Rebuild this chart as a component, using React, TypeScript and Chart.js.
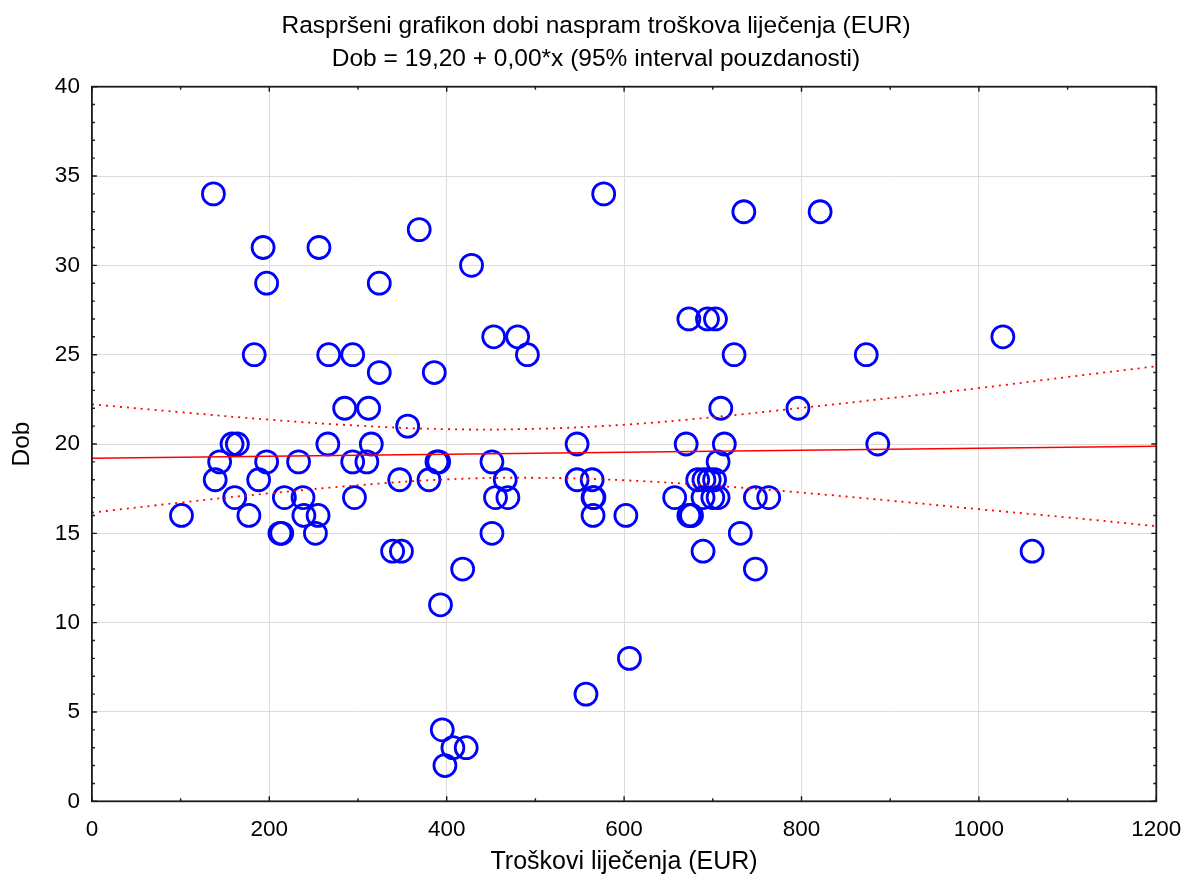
import React, { useEffect, useRef } from "react";
import { Chart, registerables } from "chart.js";

Chart.register(...registerables);

// Troškovi liječenja (EUR) for each patient
const costX = [
  137, 577,
  735, 821,
  369,
  193, 256,
  428,
  197, 324,
  673, 694, 703,
  453, 480, 1027,
  183, 267, 294, 491, 724, 873,
  324, 386,
  285, 312, 709, 796,
  356,
  158, 164, 266, 315, 547, 670, 713, 886,
  144, 197, 233, 294, 310, 389, 391, 451, 706,
  139, 188, 347, 380, 466, 547, 564, 683, 690, 696, 702,
  161, 217, 238, 296, 455, 469, 565, 566, 657, 689, 700, 706, 748, 763,
  101, 177, 239, 255, 565, 602, 673, 675, 676,
  212, 214, 252, 451, 731,
  339, 349, 689, 1060,
  418, 748,
  393,
  606,
  557,
  395,
  407, 422,
  398,
];

// Dob (age) for each patient
const ageY = [
  34, 34,
  33, 33,
  32,
  31, 31,
  30,
  29, 29,
  27, 27, 27,
  26, 26, 26,
  25, 25, 25, 25, 25, 25,
  24, 24,
  22, 22, 22, 22,
  21,
  20, 20, 20, 20, 20, 20, 20, 20,
  19, 19, 19, 19, 19, 19, 19, 19, 19,
  18, 18, 18, 18, 18, 18, 18, 18, 18, 18, 18,
  17, 17, 17, 17, 17, 17, 17, 17, 17, 17, 17, 17, 17, 17,
  16, 16, 16, 16, 16, 16, 16, 16, 16,
  15, 15, 15, 15, 15,
  14, 14, 14, 14,
  13, 13,
  11,
  8,
  6,
  4,
  3, 3,
  2,
];

// Regression line
const fitX = [0, 1200];
const fitY = [19.2, 19.88];

// 95% confidence band
const bandX = [0, 100, 200, 300, 400, 500, 600, 700, 800, 900, 1000, 1100, 1200];
const upperBand = [22.22, 21.78, 21.36, 21.03, 20.83, 20.85, 21.08, 21.5, 22.02, 22.57, 23.13, 23.75, 24.35];
const lowerBand = [16.16, 16.72, 17.24, 17.69, 18.02, 18.11, 17.97, 17.67, 17.28, 16.83, 16.35, 15.89, 15.4];

const titleLines = [
  "Raspršeni grafikon dobi naspram troškova liječenja (EUR)",
  "Dob = 19,20 + 0,00*x (95% interval pouzdanosti)",
];
const xTitle = "Troškovi liječenja (EUR)";
const yTitle = "Dob";

const FONT = "'Liberation Sans', Arial, sans-serif";
const TEXT_SIZE = 24.5;
const TICK_SIZE = 22.5;

const framePlugin = {
  id: "frame",
  afterDraw(chart: any) {
    const { ctx, chartArea } = chart;
    const { left, right, top, bottom } = chartArea;
    const xs = chart.scales.x;
    const ys = chart.scales.y;
    ctx.save();
    ctx.strokeStyle = "#1a1a1a";
    ctx.lineWidth = 1.4;
    ctx.beginPath();
    for (let v = 0; v <= 40; v++) {
      const py = ys.getPixelForValue(v);
      const len = v % 5 === 0 ? 5 : 3;
      ctx.moveTo(left, py);
      ctx.lineTo(left + len, py);
      ctx.moveTo(right, py);
      ctx.lineTo(right - len, py);
    }
    for (let v = 0; v <= 1200; v += 100) {
      const px = xs.getPixelForValue(v);
      const len = v % 200 === 0 ? 5 : 3;
      ctx.moveTo(px, bottom);
      ctx.lineTo(px, bottom - len);
      ctx.moveTo(px, top);
      ctx.lineTo(px, top + len);
    }
    ctx.stroke();
    ctx.lineWidth = 1.8;
    ctx.strokeRect(left, top, right - left, bottom - top);
    ctx.restore();
  },
};

export default function App() {
  const canvasRef = useRef<HTMLCanvasElement | null>(null);

  useEffect(() => {
    const canvas = canvasRef.current;
    if (!canvas) return;
    const points = costX.map((x, i) => ({ x, y: ageY[i] }));
    const fit = fitX.map((x, i) => ({ x, y: fitY[i] }));
    const upper = bandX.map((x, i) => ({ x, y: upperBand[i] }));
    const lower = bandX.map((x, i) => ({ x, y: lowerBand[i] }));

    const chart = new Chart(canvas, {
      type: "scatter",
      data: {
        datasets: [
          {
            label: "fit",
            data: fit,
            showLine: true,
            borderColor: "#ff0000",
            borderWidth: 1.5,
            pointRadius: 0,
            order: 1,
          },
          {
            label: "upper",
            data: upper,
            showLine: true,
            borderColor: "#ff0000",
            borderWidth: 1.8,
            borderDash: [2, 5],
            tension: 0.4,
            pointRadius: 0,
            order: 1,
          },
          {
            label: "lower",
            data: lower,
            showLine: true,
            borderColor: "#ff0000",
            borderWidth: 1.8,
            borderDash: [2, 5],
            tension: 0.4,
            pointRadius: 0,
            order: 1,
          },
          {
            label: "Dob",
            data: points,
            pointStyle: "circle",
            pointRadius: 11,
            pointHoverRadius: 11,
            borderWidth: 2.8,
            borderColor: "#0000ff",
            backgroundColor: "rgba(0,0,0,0)",
            order: 2,
          },
        ],
      },
      options: {
        responsive: false,
        animation: false,
        events: [],
        layout: { padding: { left: 0, right: 0, top: 0, bottom: 0 } },
        plugins: {
          legend: { display: false },
          tooltip: { enabled: false },
          title: {
            display: true,
            text: titleLines,
            color: "#000",
            font: { family: FONT, size: TEXT_SIZE, weight: "normal", lineHeight: 33 / TEXT_SIZE },
            padding: { top: 9.5, bottom: 11.2 },
          },
        },
        scales: {
          x: {
            type: "linear",
            min: 0,
            max: 1200,
            afterFit: (s: any) => {
              s.height = 83.7;
              s.paddingLeft = 0;
              s.paddingRight = 0;
            },
            ticks: {
              stepSize: 200,
              color: "#000",
              padding: 15,
              font: { family: FONT, size: TICK_SIZE },
              maxRotation: 0,
              callback: (v: any) => String(v),
            },
            grid: { color: "#dcdcdc", lineWidth: 1, drawTicks: false },
            border: { display: false },
            title: {
              display: true,
              text: xTitle,
              color: "#000",
              font: { family: FONT, size: 25, lineHeight: 1.2 },
              padding: { top: 0, bottom: 8.3 },
            },
          },
          y: {
            type: "linear",
            min: 0,
            max: 40,
            afterFit: (s: any) => {
              s.width = 91.9;
              s.paddingTop = 0;
              s.paddingBottom = 0;
            },
            ticks: {
              stepSize: 5,
              color: "#000",
              padding: 12,
              font: { family: FONT, size: TICK_SIZE },
              callback: (v: any) => String(v),
            },
            grid: { color: "#dcdcdc", lineWidth: 1, drawTicks: false },
            border: { display: false },
            title: {
              display: true,
              text: yTitle,
              color: "#000",
              font: { family: FONT, size: TEXT_SIZE, lineHeight: 1.2 },
              padding: { top: 7.3, bottom: 0 },
            },
          },
          yRightSpace: {
            type: "linear",
            position: "right",
            display: true,
            afterFit: (s: any) => {
              s.width = 35.7;
              s.paddingTop = 0;
              s.paddingBottom = 0;
            },
            ticks: { display: false },
            grid: { display: false, drawTicks: false },
            border: { display: false },
            title: { display: false },
          },
        },
      },
      plugins: [framePlugin],
    } as any);
    return () => chart.destroy();
  }, []);

  return (
    <div style={{ position: "absolute", left: 0, top: 0, width: 1192, height: 885, background: "#fff" }}>
      <canvas ref={canvasRef} width={1192} height={885} style={{ display: "block" }} />
    </div>
  );
}
